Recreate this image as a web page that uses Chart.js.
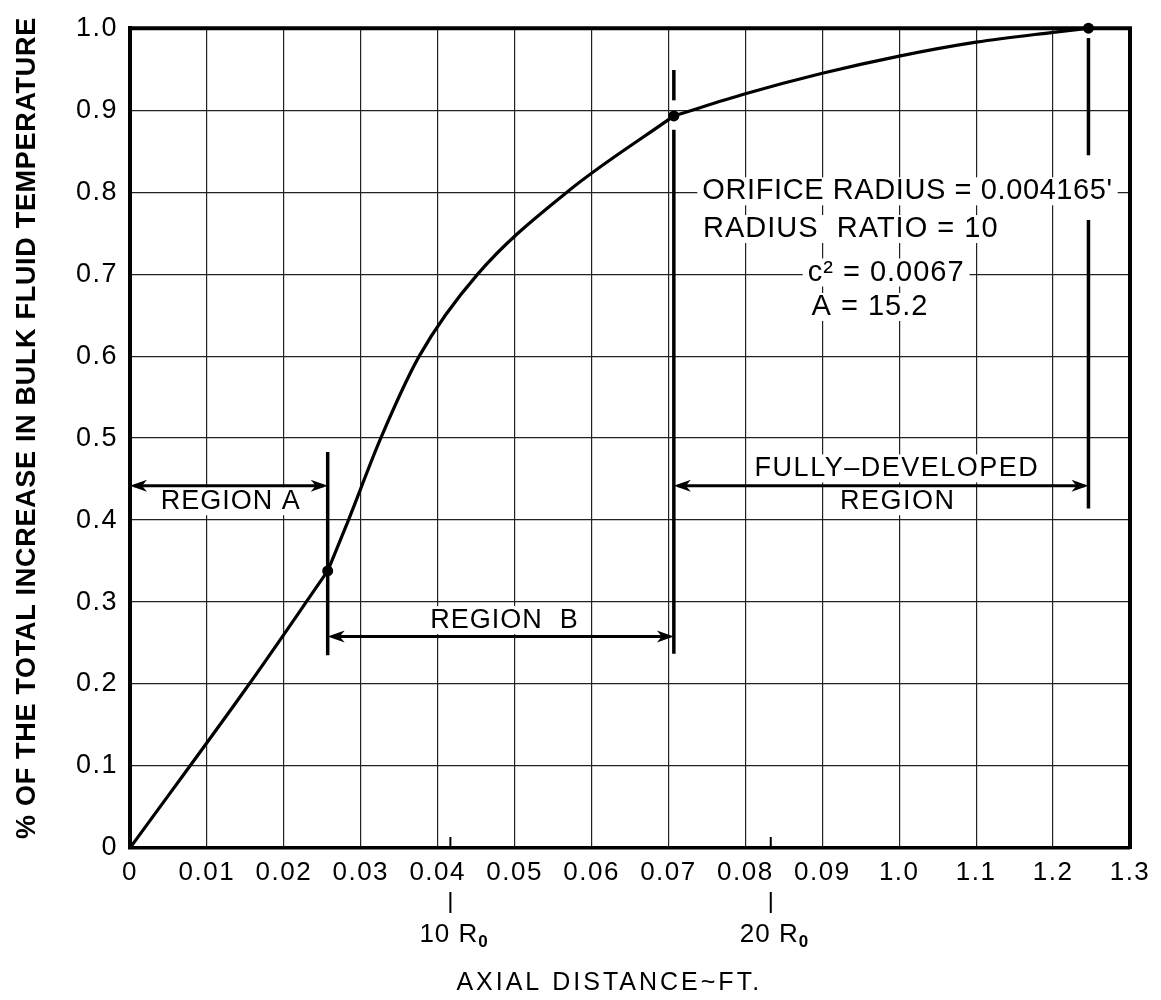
<!DOCTYPE html>
<html>
<head>
<meta charset="utf-8">
<script src="https://cdn.jsdelivr.net/npm/chart.js@4.4.0/dist/chart.umd.min.js"></script>
<style>
    html, body { margin: 0; padding: 0; background: #fff; }
    #wrap { width: 1161px; height: 1000px; }
</style>
</head>
<body>
<div id="wrap"><canvas id="grafico"></canvas></div>
<script>
// eixo x em pés: os rótulos "1.0 .. 1.3" do original correspondem a 0.10 .. 0.13
const xTickValues = [0, 0.01, 0.02, 0.03, 0.04, 0.05, 0.06, 0.07, 0.08, 0.09, 0.10, 0.11, 0.12, 0.13];
const xTickLabels = ['0', '0.01', '0.02', '0.03', '0.04', '0.05', '0.06', '0.07', '0.08', '0.09', '1.0', '1.1', '1.2', '1.3'];
const yTickValues = [0, 0.1, 0.2, 0.3, 0.4, 0.5, 0.6, 0.7, 0.8, 0.9, 1.0];
const yTickLabels = ['0', '0.1', '0.2', '0.3', '0.4', '0.5', '0.6', '0.7', '0.8', '0.9', '1.0'];

// curva
const regionAx = [0, 0.0155, 0.0257];
const regionAy = [0, 0.2, 0.338];
const regionBx = [0.0257, 0.0284, 0.0326, 0.0376, 0.0452, 0.0568, 0.0707];
const regionBy = [0.338, 0.4, 0.5, 0.6, 0.7, 0.8, 0.893];
const fullyDevX = [0.0707, 0.080, 0.090, 0.100, 0.110, 0.120, 0.1246];
const fullyDevY = [0.893, 0.920, 0.945, 0.966, 0.983, 0.995, 1.0];

// pontos que separam as regiões
const markerX = [0.0257, 0.0707, 0.1246];
const markerY = [0.338, 0.893, 1.0];

// marcas 10 R0 e 20 R0 (R0 = 0.004165 ft)
const r0Marks = [0.04165, 0.0833];
const r0Labels = ['10', '20'];

const pts = (xs, ys) => xs.map((x, i) => ({ x: x, y: ys[i] }));

const curveStyle = {
    borderColor: '#000',
    borderWidth: 3.2,
    pointRadius: 0,
    showLine: true,
    fill: false,
    clip: false,
    cubicInterpolationMode: 'monotone'
};

const LETTER = '"Liberation Sans", Arial, sans-serif';

function setFont(ctx, size, weight, spacing) {
    ctx.font = (weight || 'normal') + ' ' + size + 'px ' + LETTER;
    ctx.letterSpacing = (spacing || 0) + 'px';
}

function arrowHead(ctx, x, y, dir) {
    ctx.beginPath();
    ctx.moveTo(x, y);
    ctx.lineTo(x - dir * 17, y - 6);
    ctx.lineTo(x - dir * 12, y);
    ctx.lineTo(x - dir * 17, y + 6);
    ctx.closePath();
    ctx.fill();
}

function doubleArrow(ctx, x1, x2, y) {
    ctx.beginPath();
    ctx.moveTo(x1 + 4, y);
    ctx.lineTo(x2 - 4, y);
    ctx.stroke();
    arrowHead(ctx, x1, y, -1);
    arrowHead(ctx, x2, y, 1);
}

function vSeg(ctx, xs, ys, x, y1, y2) {
    ctx.beginPath();
    ctx.moveTo(xs.getPixelForValue(x), ys.getPixelForValue(y1));
    ctx.lineTo(xs.getPixelForValue(x), ys.getPixelForValue(y2));
    ctx.stroke();
}

// textos dentro do gráfico: [texto, x, y, alinhamento, tamanho, espaçamento]
const plotTexts = [
    ['REGION A', 0.0131, 0.423, 'center', 27, 1],
    ['REGION  B', 0.0487, 0.278, 'center', 27, 1],
    ['FULLY\u2013DEVELOPED', 0.0997, 0.463, 'center', 27, 1.5],
    ['REGION', 0.0998, 0.423, 'center', 27, 1.5],
    ['ORIFICE RADIUS = 0.004165\'', 0.0744, 0.801, 'left', 29, 0.6],
    ['RADIUS  RATIO = 10', 0.0745, 0.755, 'left', 29, 1],
    ['c\u00B2 = 0.0067', 0.0881, 0.702, 'left', 29, 1],
    ['A = 15.2', 0.0886, 0.660, 'left', 29, 1]
];

const extras = {
    id: 'extras',
    beforeDraw(chart) {
        chart.ctx.letterSpacing = '1.5px';
    },
    beforeDatasetsDraw(chart) {
        const ctx = chart.ctx;
        const xs = chart.scales.x, ys = chart.scales.y;
        ctx.save();
        ctx.fillStyle = '#fff';
        plotTexts.forEach(t => {
            setFont(ctx, t[4], 'normal', t[5]);
            const w = ctx.measureText(t[0]).width;
            const px = xs.getPixelForValue(t[1]);
            const py = ys.getPixelForValue(t[2]);
            const left = t[3] === 'center' ? px - w / 2 : px;
            ctx.fillRect(left - 5, py - 14, w + 10, 28);
        });
        ctx.restore();
    },
    afterDatasetsDraw(chart) {
        const ctx = chart.ctx;
        const xs = chart.scales.x, ys = chart.scales.y;
        const area = chart.chartArea;
        ctx.save();
        ctx.strokeStyle = '#000';
        ctx.fillStyle = '#000';

        // moldura superior e direita
        ctx.lineWidth = 4;
        ctx.beginPath();
        ctx.moveTo(area.left - 1, area.top);
        ctx.lineTo(area.right, area.top);
        ctx.lineTo(area.right, area.bottom + 1);
        ctx.stroke();

        // linhas verticais de fronteira
        ctx.lineWidth = 3.5;
        vSeg(ctx, xs, ys, markerX[0], 0.483, 0.235);
        vSeg(ctx, xs, ys, markerX[1], 0.949, 0.912);
        vSeg(ctx, xs, ys, markerX[1], 0.876, 0.237);
        vSeg(ctx, xs, ys, markerX[2], 0.988, 0.845);
        vSeg(ctx, xs, ys, markerX[2], 0.766, 0.414);

        // setas das regiões
        ctx.lineWidth = 3;
        doubleArrow(ctx, xs.getPixelForValue(0), xs.getPixelForValue(markerX[0]), ys.getPixelForValue(0.442));
        doubleArrow(ctx, xs.getPixelForValue(markerX[0]), xs.getPixelForValue(markerX[1]), ys.getPixelForValue(0.258));
        doubleArrow(ctx, xs.getPixelForValue(markerX[1]), xs.getPixelForValue(markerX[2]), ys.getPixelForValue(0.442));

        // textos
        ctx.textBaseline = 'middle';
        plotTexts.forEach(t => {
            setFont(ctx, t[4], 'normal', t[5]);
            ctx.textAlign = t[3];
            ctx.fillText(t[0], xs.getPixelForValue(t[1]), ys.getPixelForValue(t[2]));
        });

        // marcas 10 R0 / 20 R0
        ctx.lineWidth = 2;
        r0Marks.forEach((v, i) => {
            const px = xs.getPixelForValue(v);
            ctx.beginPath();
            ctx.moveTo(px, area.bottom - 11);
            ctx.lineTo(px, area.bottom);
            ctx.moveTo(px, area.bottom + 44);
            ctx.lineTo(px, area.bottom + 65);
            ctx.stroke();
            setFont(ctx, 26, 'normal', 1);
            ctx.textAlign = 'left';
            const main = r0Labels[i] + ' R';
            const w = ctx.measureText(main).width;
            const x0 = px - 31;
            ctx.fillText(main, x0, area.bottom + 87);
            setFont(ctx, 17, 'bold', 0);
            ctx.fillText('0', x0 + w, area.bottom + 94);
        });

        // título do eixo x
        setFont(ctx, 25, 'normal', 3);
        ctx.textAlign = 'center';
        ctx.fillText('AXIAL DISTANCE~FT.', xs.getPixelForValue(0.0623), area.bottom + 135);

        // título do eixo y
        ctx.translate(28, 428);
        ctx.rotate(-Math.PI / 2);
        setFont(ctx, 27, 'bold', 0.7);
        ctx.fillText('% OF THE TOTAL INCREASE IN BULK FLUID TEMPERATURE', 0, 0);
        ctx.restore();
    }
};

const ctx = document.getElementById('grafico').getContext('2d');
new Chart(ctx, {
    type: 'scatter',
    data: {
        datasets: [
            Object.assign({ data: pts(regionAx, regionAy) }, curveStyle),
            Object.assign({ data: pts(regionBx, regionBy) }, curveStyle),
            Object.assign({ data: pts(fullyDevX, fullyDevY) }, curveStyle),
            {
                data: pts(markerX, markerY),
                showLine: false,
                clip: false,
                pointRadius: 5.5,
                pointBackgroundColor: '#000',
                pointBorderWidth: 0
            }
        ]
    },
    options: {
        responsive: true,
        maintainAspectRatio: false,
        animation: false,
        layout: { padding: { left: 0, top: 25, right: 31, bottom: 0 } },
        plugins: { legend: { display: false }, tooltip: { enabled: false } },
        scales: {
            x: {
                type: 'linear',
                min: 0,
                max: 0.13,
                afterBuildTicks: s => { s.ticks = xTickValues.map(v => ({ value: v })); },
                afterFit: s => { s.height = 152; },
                grid: { color: '#222', lineWidth: 1.2, drawTicks: false },
                border: { color: '#000', width: 3.5 },
                ticks: {
                    color: '#000',
                    padding: 9,
                    maxRotation: 0,
                    autoSkip: false,
                    font: { family: LETTER, size: 26 },
                    callback: (v) => xTickLabels[Math.round(v * 100)]
                }
            },
            y: {
                type: 'linear',
                min: 0,
                max: 1,
                afterBuildTicks: s => { s.ticks = yTickValues.map(v => ({ value: v })); },
                afterFit: s => { s.width = 130; },
                grid: { color: '#222', lineWidth: 1.2, drawTicks: false },
                border: { color: '#000', width: 4 },
                ticks: {
                    color: '#000',
                    padding: 12,
                    autoSkip: false,
                    font: { family: LETTER, size: 27 },
                    callback: (v) => yTickLabels[Math.round(v * 10)]
                }
            }
        }
    },
    plugins: [extras]
});
</script>
</body>
</html>
